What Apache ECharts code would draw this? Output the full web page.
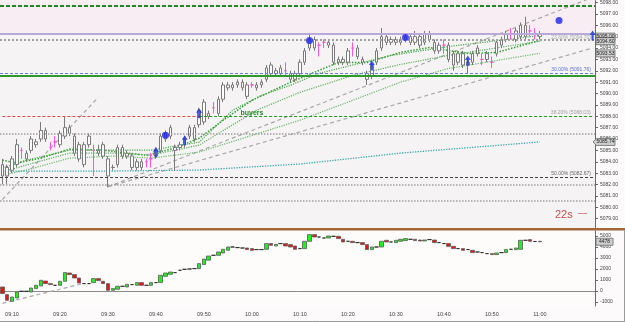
<!DOCTYPE html>
<html>
<head>
<meta charset="utf-8">
<title>ES 1 min</title>
<script src="https://cdn.jsdelivr.net/npm/echarts@6/dist/echarts.min.js"></script>
<style>
  html, body { margin: 0; padding: 0; background: #fcfafa; }
  #chart { width: 625px; height: 322px; }
</style>
</head>
<body>
<div id="chart"></div>
<script>
  /** Time axis: one category per minute, 09:08 .. 11:11 */
  var startMinute = 9 * 60 + 8;
  var categoryCount = 124;
  var lastLabelIndex = 112; // 11:00, last labelled tick
  var times = [];
  for (var m = 0; m < categoryCount; m++) {
    var t = startMinute + m;
    var hh = Math.floor(t / 60), mm = t % 60;
    times.push((hh < 10 ? '0' : '') + hh + ':' + (mm < 10 ? '0' : '') + mm);
  }

  /** Price bars */
  var priceOpen = [
    5083.75, 5082.75, 5083.25, 5083.75, 5085.0, 5084.75, 5085.0, 5085.75, 5086.0, 5086.75,
    5085.25, 5085.75, 5085.5, 5086.25, 5087.0, 5086.25, 5085.5, 5083.75, 5085.5, 5085.0,
    5085.0, 5084.5, 5084.25, 5083.5, 5083.75, 5085.25, 5084.5, 5084.5, 5083.5, 5084.0,
    5084.0, 5084.25, 5084.5, 5085.0, 5086.0, 5086.25, 5085.25, 5085.25, 5085.5, 5086.25,
    5087.0, 5087.25, 5087.5, 5088.25, 5088.75, 5088.25, 5089.5, 5090.75, 5090.5, 5090.75,
    5091.0, 5090.75, 5090.75, 5090.5, 5090.75, 5091.25, 5091.75, 5092.0, 5091.75, 5092.0,
    5091.75, 5091.25, 5091.75, 5092.75, 5094.0, 5094.75, 5094.25, 5094.5, 5094.25, 5094.25,
    5093.0, 5092.75, 5092.75, 5094.0, 5094.0, 5093.0, 5091.75, 5091.5, 5092.75, 5094.0,
    5095.0, 5094.5, 5094.75, 5094.5, 5094.75, 5095.0, 5094.5, 5095.0, 5094.5, 5095.25,
    5094.5, 5093.75, 5094.25, 5094.25, 5093.5, 5092.75, 5093.5, 5092.5, 5092.75, 5093.5,
    5093.0, 5093.0, 5092.75, 5093.5, 5094.25, 5094.75, 5095.25, 5095.5, 5095.0, 5095.0,
    5095.5, 5095.25, 5095.25
  ];
  var priceClose = [
    5082.75, 5083.5, 5084.25, 5085.5, 5085.0, 5084.25, 5086.0, 5085.5, 5086.75, 5086.0,
    5085.25, 5085.75, 5086.5, 5087.0, 5086.5, 5084.75, 5084.25, 5085.5, 5086.25, 5085.0,
    5084.75, 5085.5, 5082.75, 5083.5, 5085.25, 5084.5, 5084.75, 5083.5, 5084.0, 5083.5,
    5084.0, 5084.25, 5085.0, 5086.25, 5086.5, 5087.0, 5085.0, 5085.5, 5086.0, 5087.0,
    5086.0, 5088.5, 5089.25, 5088.0, 5088.75, 5089.5, 5090.75, 5090.5, 5090.75, 5091.0,
    5090.5, 5089.75, 5090.75, 5090.75, 5091.0, 5092.25, 5092.5, 5091.75, 5092.25, 5092.0,
    5091.25, 5091.75, 5092.75, 5093.75, 5094.75, 5094.0, 5094.25, 5094.5, 5094.5, 5092.75,
    5092.75, 5093.0, 5093.75, 5094.0, 5093.25, 5092.75, 5091.25, 5092.5, 5093.75, 5095.0,
    5094.5, 5094.75, 5094.5, 5094.75, 5095.0, 5094.5, 5095.0, 5094.25, 5095.25, 5094.75,
    5093.75, 5094.25, 5094.25, 5093.0, 5092.5, 5093.5, 5092.5, 5092.75, 5093.5, 5094.0,
    5093.0, 5093.5, 5092.75, 5094.5, 5094.75, 5095.25, 5095.25, 5094.75, 5096.0, 5096.0,
    5095.5, 5095.25, 5095.0
  ];
  var priceLow = [
    5082.0, 5082.0, 5083.0, 5083.5, 5084.25, 5084.0, 5084.75, 5085.25, 5085.75, 5085.75,
    5085.0, 5085.25, 5085.25, 5086.0, 5086.25, 5084.5, 5084.0, 5083.5, 5085.25, 5082.75,
    5084.5, 5084.25, 5081.75, 5083.25, 5083.5, 5084.25, 5084.25, 5083.25, 5083.25, 5083.25,
    5083.5, 5083.5, 5084.25, 5084.75, 5085.75, 5086.0, 5083.25, 5085.0, 5085.25, 5086.0,
    5085.75, 5087.0, 5087.25, 5087.75, 5088.25, 5088.0, 5089.25, 5090.25, 5090.25, 5090.5,
    5090.25, 5089.5, 5090.5, 5090.25, 5090.5, 5091.0, 5091.5, 5091.5, 5091.5, 5091.5,
    5091.0, 5091.0, 5091.5, 5092.5, 5093.75, 5093.75, 5093.25, 5094.0, 5094.0, 5092.5,
    5092.5, 5092.5, 5092.5, 5093.25, 5093.0, 5092.5, 5090.75, 5091.25, 5092.5, 5093.75,
    5094.25, 5094.25, 5094.25, 5094.25, 5094.5, 5094.25, 5094.25, 5094.0, 5094.25, 5094.5,
    5093.5, 5093.5, 5093.5, 5092.75, 5092.0, 5092.5, 5092.25, 5091.75, 5092.5, 5093.25,
    5092.5, 5092.75, 5092.25, 5093.25, 5094.0, 5094.5, 5094.75, 5094.5, 5094.75, 5094.75,
    5095.0, 5094.75, 5094.75
  ];
  var priceHigh = [
    5084.25, 5083.75, 5084.5, 5086.0, 5085.25, 5085.0, 5086.25, 5086.0, 5087.5, 5087.0,
    5085.75, 5086.25, 5086.75, 5088.0, 5087.25, 5086.5, 5085.75, 5085.75, 5086.5, 5085.5,
    5085.5, 5085.75, 5084.5, 5083.75, 5085.5, 5085.5, 5085.0, 5084.75, 5084.25, 5084.25,
    5084.25, 5084.75, 5085.25, 5086.5, 5086.75, 5087.25, 5085.5, 5085.75, 5086.25, 5087.25,
    5087.25, 5088.75, 5089.5, 5088.5, 5089.25, 5089.75, 5091.0, 5091.0, 5091.0, 5091.25,
    5091.25, 5091.0, 5091.0, 5091.0, 5091.25, 5092.5, 5092.75, 5092.25, 5092.5, 5092.75,
    5092.0, 5092.0, 5093.0, 5094.0, 5095.25, 5095.0, 5094.5, 5094.75, 5094.75, 5094.5,
    5093.25, 5093.25, 5094.0, 5094.5, 5094.25, 5093.25, 5092.0, 5092.75, 5094.0, 5095.75,
    5095.25, 5095.0, 5095.0, 5095.0, 5095.25, 5095.25, 5095.5, 5095.25, 5095.5, 5095.5,
    5094.75, 5094.5, 5094.75, 5094.5, 5093.75, 5093.75, 5093.75, 5093.0, 5093.75, 5094.25,
    5093.5, 5093.75, 5093.25, 5094.75, 5095.0, 5095.5, 5095.75, 5095.75, 5096.25, 5096.75,
    5096.0, 5095.75, 5095.5
  ];
  // bars drawn in magenta (dojis)
  var pinkBars = [4, 10, 11, 19, 30, 31, 44, 52, 59, 66, 67, 73, 92, 100, 102, 106, 110, 111];

  /** Moving averages: [bar index] / [value] pairs */
  var maFastIdx = [0, 3, 8, 14, 21, 26, 30, 36, 41, 46, 52, 60, 66, 70, 76, 83, 89, 97, 103, 112];
  var maFastVal = [5084.14, 5083.88, 5084.32, 5085.11, 5085.02, 5084.76, 5084.58, 5085.20, 5086.07, 5087.65,
    5089.40, 5090.98, 5092.03, 5092.73, 5092.73, 5093.61, 5094.05, 5093.52, 5093.61, 5094.66];
  var maOneIdx = [0, 5, 14, 23, 31, 36, 41, 48, 54, 60, 66, 81, 93, 112];
  var maOneVal = [5083.44, 5084.14, 5085.02, 5085.02, 5085.02, 5085.37, 5085.72, 5088.53, 5089.84, 5090.72,
    5091.77, 5093.35, 5094.13, 5095.10];
  var maTwoIdx = [0, 5, 14, 23, 31, 36, 41, 53, 62, 73, 83, 93, 112];
  var maTwoVal = [5083.09, 5083.71, 5084.76, 5084.76, 5084.58, 5085.02, 5085.46, 5088.53, 5090.10, 5091.59,
    5092.56, 5093.35, 5094.60];
  var maThreeIdx = [0, 5, 14, 23, 31, 36, 41, 62, 73, 83, 93, 112];
  var maThreeVal = [5082.83, 5083.27, 5084.32, 5084.50, 5084.32, 5084.58, 5084.85, 5087.65, 5089.40, 5091.00,
    5092.20, 5093.53];
  var maSlowIdx = [0, 22, 41, 62, 83, 112];
  var maSlowVal = [5083.18, 5083.18, 5083.27, 5083.80, 5084.76, 5085.74];

  /** Trend lines */
  var trendLeftIdx = [0, 20];
  var trendLeftVal = [5080.68, 5089.67];
  var trendLowIdx = [22, 123];
  var trendLowVal = [5081.8, 5094.0];
  var trendHighIdx = [22, 123];
  var trendHighVal = [5081.8, 5098.45];

  /** Signals */
  var arrowIdx = [32, 38, 41, 77, 97, 123];
  var arrowVal = [5084.85, 5085.9, 5088.26, 5092.47, 5092.9, 5095.1];
  var dotIdx = [34, 64, 84, 116];
  var dotVal = [5086.33, 5094.66, 5094.92, 5096.41];

  /** Cumulative delta (lower pane) */
  var deltaOpen = [
    364, -327, -936, -636, -30, -30, -91, 218, 455, 909,
    673, 518, 518, 882, 1636, 1491, 1182, 673, 673, 764,
    1127, 882, 673, 64, 155, 427, 364, 582, 518, 764,
    518, 518, 764, 764, 1336, 1518, 1673, 1882, 1973, 2000,
    2036, 2036, 2400, 2800, 3245, 3245, 3455, 3700, 4000, 3945,
    3909, 3909, 3855, 3764, 3764, 3791, 4309, 4091, 4309, 4309,
    4218, 4091, 3855, 3855, 4518, 5127, 4909, 4818, 4818, 4973,
    4973, 4700, 4518, 4518, 4400, 4400, 4218, 3764, 4000, 4000,
    4609, 4455, 4400, 4518, 4582, 4700, 4700, 4636, 4545, 4673,
    4636, 4400, 4309, 4309, 4064, 3855, 3855, 3764, 3700, 3545,
    3491, 3400, 3400, 3309, 3491, 3491, 3791, 3764, 3791, 4609,
    4673, 4500, 4520
  ];
  var deltaClose = [
    -236, -845, -545, -91, -30, -30, 273, 518, 973, 673,
    582, 518, 882, 1673, 1491, 1182, 727, 673, 673, 1127,
    945, 673, 64, 218, 427, 427, 609, 582, 764, 518,
    518, 764, 764, 1427, 1636, 1727, 1673, 1882, 1973, 2000,
    2036, 2491, 2900, 3182, 3245, 3545, 3791, 4000, 4000, 3945,
    3909, 3764, 3700, 3764, 3764, 4309, 4155, 4245, 4309, 4091,
    4000, 3791, 3855, 4518, 5127, 4909, 4909, 4818, 5000, 4973,
    4764, 4455, 4518, 4400, 4400, 4218, 3764, 4000, 4000, 4518,
    4455, 4455, 4609, 4700, 4764, 4700, 4582, 4545, 4636, 4673,
    4400, 4400, 4309, 4064, 3855, 3855, 3700, 3764, 3491, 3545,
    3491, 3400, 3309, 3455, 3491, 3764, 3791, 3909, 4609, 4609,
    4518, 4500, 4478
  ];
  var deltaTrendIdx = [0, 17];
  var deltaTrendVal = [-1120, 700];

  /** Horizontal levels */
  var levelTopDash = 5097.70;
  var levelPurple = 5095.21;
  var levelFib236 = 5094.72;
  var levelFib300 = 5091.76;
  var levelGreen = 5091.53;
  var levelFib382 = 5088.03;
  var levelGrayA = 5086.50;
  var levelFib500 = 5082.67;
  var levelGrayB = 5081.96;
  var levelGrayC = 5080.60;

  /** Right-hand value tags */
  var priceTags = [5095.00, 5094.60, 5093.53, 5085.74];
  var deltaTag = 4478;

  var font = 'Liberation Sans';

  function pairs(idx, val) {
    return idx.map(function(i, k) { return [i, val[k]]; });
  }

  var priceBars = priceOpen.map(function(o, i) {
    var item = { value: [o, priceClose[i], priceLow[i], priceHigh[i]] };
    if (pinkBars.indexOf(i) >= 0) {
      item.itemStyle = {
        color: '#ff66dd', color0: '#ff66dd', borderColor: '#ff55dd',
        borderColor0: '#ff55dd', borderColorDoji: '#ff55dd'
      };
    }
    return item;
  });

  var deltaBars = deltaOpen.map(function(o, i) {
    var c = deltaClose[i];
    return [o, c, Math.min(o, c), Math.max(o, c)];
  });

  function tenMinutes(index, value) {
    return index <= lastLabelIndex && +value.slice(3) % 10 === 0;
  }

  function maLine(name, data, color, width) {
    return {
      name: name, type: 'line', xAxisIndex: 0, yAxisIndex: 0,
      data: data, symbol: 'none', silent: true, z: 3,
      lineStyle: { color: color, width: width, type: 'dotted' }
    };
  }

  function trendLine(name, data, xi, yi) {
    return {
      name: name, type: 'line', xAxisIndex: xi, yAxisIndex: yi,
      data: data, symbol: 'none', silent: true, z: 2,
      lineStyle: { color: '#a8a8a8', width: 1.2, type: [4, 3] }
    };
  }

  var red = '#e83c3c', green = '#2f9f2f';

  var option = {
    animation: false,
    backgroundColor: '#fcfafa',
    textStyle: { fontFamily: font },
    grid: [
      { left: -2, right: 30, top: 0, height: 230, show: true, backgroundColor: '#f5f3f4', borderWidth: 0 },
      { left: -2, right: 30, top: 231, height: 75, show: true, backgroundColor: '#fefbfb', borderWidth: 0 }
    ],
    xAxis: [
      {
        type: 'category', gridIndex: 0, data: times, boundaryGap: true,
        axisLine: { show: false }, axisTick: { show: false }, axisLabel: { show: false }
      },
      {
        type: 'category', gridIndex: 1, data: times, boundaryGap: true,
        axisLine: { lineStyle: { color: '#8a8a8a' } },
        axisTick: { interval: tenMinutes, alignWithLabel: true, length: 3, lineStyle: { color: '#666' } },
        axisLabel: { interval: tenMinutes, fontSize: 5.5, color: '#444', margin: 5, fontFamily: font }
      }
    ],
    yAxis: [
      {
        type: 'value', gridIndex: 0, position: 'right', min: 5078, max: 5098.17, interval: 1,
        axisLine: { show: true, lineStyle: { color: '#6a6a6a' } },
        axisTick: { show: true, length: 3, lineStyle: { color: '#666' } },
        axisLabel: {
          fontSize: 5, color: '#444', margin: 5, fontFamily: font,
          showMinLabel: false, showMaxLabel: false,
          formatter: function(v) { return v.toFixed(2); }
        },
        splitLine: { show: false }
      },
      {
        type: 'value', gridIndex: 1, position: 'right', min: -1364, max: 5455, splitNumber: 6,
        axisLine: { show: true, lineStyle: { color: '#6a6a6a' } },
        axisTick: { show: true, length: 3, lineStyle: { color: '#666' } },
        axisLabel: {
          fontSize: 5, color: '#444', margin: 5, fontFamily: font,
          showMinLabel: false, showMaxLabel: false,
          formatter: function(v) { return String(v); }
        },
        splitLine: { show: false }
      }
    ],
    visualMap: [{
      show: false, type: 'piecewise', seriesIndex: 1, dimension: 0,
      pieces: [
        { lt: 3, color: red }, { gte: 3, lt: 14, color: green },
        { gte: 14, lt: 30, color: red }, { gte: 30, lt: 73, color: green },
        { gte: 73, lt: 76, color: red }, { gte: 76, lt: 89, color: green },
        { gte: 89, lt: 103, color: red }, { gte: 103, color: green }
      ]
    }],
    series: [
      {
        name: 'price', type: 'candlestick', xAxisIndex: 0, yAxisIndex: 0,
        data: priceBars, barWidth: 3, z: 4,
        itemStyle: {
          color: '#ffffff', color0: '#ffffff', borderColor: '#7a7a7a',
          borderColor0: '#7a7a7a', borderColorDoji: '#7a7a7a', borderWidth: 1
        },
        markArea: {
          silent: true,
          data: [[{ yAxis: levelPurple, itemStyle: { color: '#f8edf3' } }, { yAxis: 5098.17 }]]
        },
        markLine: {
          silent: true, symbol: ['none', 'none'], animation: false,
          label: { show: false },
          data: [
            { yAxis: levelTopDash, lineStyle: { color: '#1f8a1f', width: 2, type: [4, 2] } },
            { yAxis: levelPurple, lineStyle: { color: '#b8aad8', width: 2, type: 'solid' } },
            { yAxis: levelFib236, lineStyle: { color: '#a0a0a0', width: 2, type: 'dotted' },
              label: { show: true, formatter: '23.60% (5094.70)', position: 'insideEndTop', distance: [4, 0],
                color: '#aaa', fontSize: 5, fontFamily: font } },
            { yAxis: levelFib300, lineStyle: { color: '#6a80e0', width: 1, type: [3, 2] },
              label: { show: true, formatter: '30.00% (5091.76)', position: 'insideEndTop', distance: [4, 1],
                color: '#5a70dd', fontSize: 5, fontFamily: font } },
            { yAxis: levelGreen, lineStyle: { color: '#2e9a2e', width: 2, type: 'solid' } },
            [
              { coord: [times[0], levelFib382], lineStyle: { color: '#e04848', width: 1.2, type: [3, 2] } },
              { coord: [times[41], levelFib382] }
            ],
            [
              { coord: [times[41], levelFib382], lineStyle: { color: '#1e9a1e', width: 1.2, type: [3, 2] },
                label: { show: true, formatter: '38.20% (5088.03)', position: 'insideEndTop', distance: [2, 1],
                  color: '#a0a0a0', fontSize: 5, fontFamily: font } },
              { coord: [times[123], levelFib382] }
            ],
            { yAxis: levelGrayA, lineStyle: { color: '#a0a0a0', width: 1.5, type: 'dotted' } },
            { yAxis: levelFib500, lineStyle: { color: '#444', width: 1, type: [3, 2] },
              label: { show: true, formatter: '50.00% (5082.67)', position: 'insideEndTop', distance: [4, 1],
                color: '#666', fontSize: 5, fontFamily: font } },
            { yAxis: levelGrayB, lineStyle: { color: '#a0a0a0', width: 1.5, type: 'dotted' } },
            { yAxis: levelGrayC, lineStyle: { color: '#a0a0a0', width: 1.5, type: 'dotted' } }
          ]
        },
        markPoint: {
          silent: true,
          data: [{
            coord: [times[52], 5088.3], symbol: 'rect', symbolSize: 1,
            itemStyle: { color: 'rgba(0,0,0,0)' },
            label: { show: true, position: 'inside', formatter: 'buyers', color: '#2a8a2a',
              fontSize: 7, fontWeight: 'bold', fontFamily: font }
          }]
        }
      },
      maLine('ma fast', pairs(maFastIdx, maFastVal), green, 1.5),
      maLine('ma 1', pairs(maOneIdx, maOneVal), '#4aa64a', 1.2),
      maLine('ma 2', pairs(maTwoIdx, maTwoVal), '#5cae5c', 1.2),
      maLine('ma 3', pairs(maThreeIdx, maThreeVal), '#6ab86a', 1.2),
      maLine('ma slow', pairs(maSlowIdx, maSlowVal), '#3aa8a8', 1.3),
      trendLine('trend left', pairs(trendLeftIdx, trendLeftVal), 0, 0),
      trendLine('trend low', pairs(trendLowIdx, trendLowVal), 0, 0),
      trendLine('trend high', pairs(trendHighIdx, trendHighVal), 0, 0),
      {
        name: 'buy', type: 'scatter', xAxisIndex: 0, yAxisIndex: 0, z: 6, silent: true,
        data: pairs(arrowIdx, arrowVal),
        symbol: 'path://M4,0 L8,5 L5.5,5 L5.5,11 L2.5,11 L2.5,5 L0,5 Z', symbolSize: [6, 10],
        itemStyle: { color: '#1530e0' }
      },
      {
        name: 'signal', type: 'scatter', xAxisIndex: 0, yAxisIndex: 0, z: 6, silent: true,
        data: pairs(dotIdx, dotVal), symbol: 'circle', symbolSize: 7,
        itemStyle: { color: '#1a22ee' }
      },
      {
        name: 'delta', type: 'candlestick', xAxisIndex: 1, yAxisIndex: 1,
        data: deltaBars, barWidth: 4, z: 4,
        itemStyle: {
          color: '#22ee22', color0: '#ee1111', borderColor: '#5a5a5a',
          borderColor0: '#5a5a5a', borderColorDoji: '#222', borderWidth: 0.8
        }
      },
      trendLine('delta trend', pairs(deltaTrendIdx, deltaTrendVal), 1, 1)
    ]
  };

  var chart = echarts.init(document.getElementById('chart'));
  chart.setOption(option);

  /** Value tags, separator and counter placed after layout */
  var graphics = [
    { type: 'rect', shape: { x: 0, y: 228, width: 625, height: 2.5 }, style: { fill: '#a5673a' }, z: 100 },
    { type: 'line', shape: { x1: 0, y1: 321.5, x2: 625, y2: 321.5 }, style: { stroke: '#9a9a9a', lineWidth: 1 }, z: 100 },
    { type: 'line', shape: { x1: 624.5, y1: 230, x2: 624.5, y2: 322 }, style: { stroke: '#9a9a9a', lineWidth: 1 }, z: 100 },
    { type: 'text', x: 555, y: 209, style: { text: '22s', fill: '#c0504d', font: '11px ' + font }, z: 100 },
    { type: 'text', x: 578, y: 209, style: { text: '\u2014', fill: '#c0504d', font: '9px ' + font }, z: 100 }
  ];

  function addTag(y, text, pointer, width) {
    var h = 7, x0 = 596, x1 = 596 + width;
    var pts = pointer
      ? [[593, y], [596.5, y - h / 2], [x1, y - h / 2], [x1, y + h / 2], [596.5, y + h / 2]]
      : [[x0, y - h / 2], [x1, y - h / 2], [x1, y + h / 2], [x0, y + h / 2]];
    graphics.push({
      type: 'polygon', shape: { points: pts },
      style: { fill: '#cfcfcf', stroke: '#6a6a6a', lineWidth: 0.8 }, z: 110
    });
    graphics.push({
      type: 'text', x: x0 + width / 2, y: y,
      style: { text: text, fill: '#222', font: '5px ' + font, align: 'center', verticalAlign: 'middle' }, z: 111
    });
  }

  priceTags.forEach(function(v, k) {
    var y = chart.convertToPixel({ yAxisIndex: 0 }, v);
    addTag(y, v.toFixed(2), k === 3, 19);
  });
  addTag(chart.convertToPixel({ yAxisIndex: 1 }, deltaTag), String(deltaTag), false, 17);

  chart.setOption({ graphic: graphics });
</script>
</body>
</html>
